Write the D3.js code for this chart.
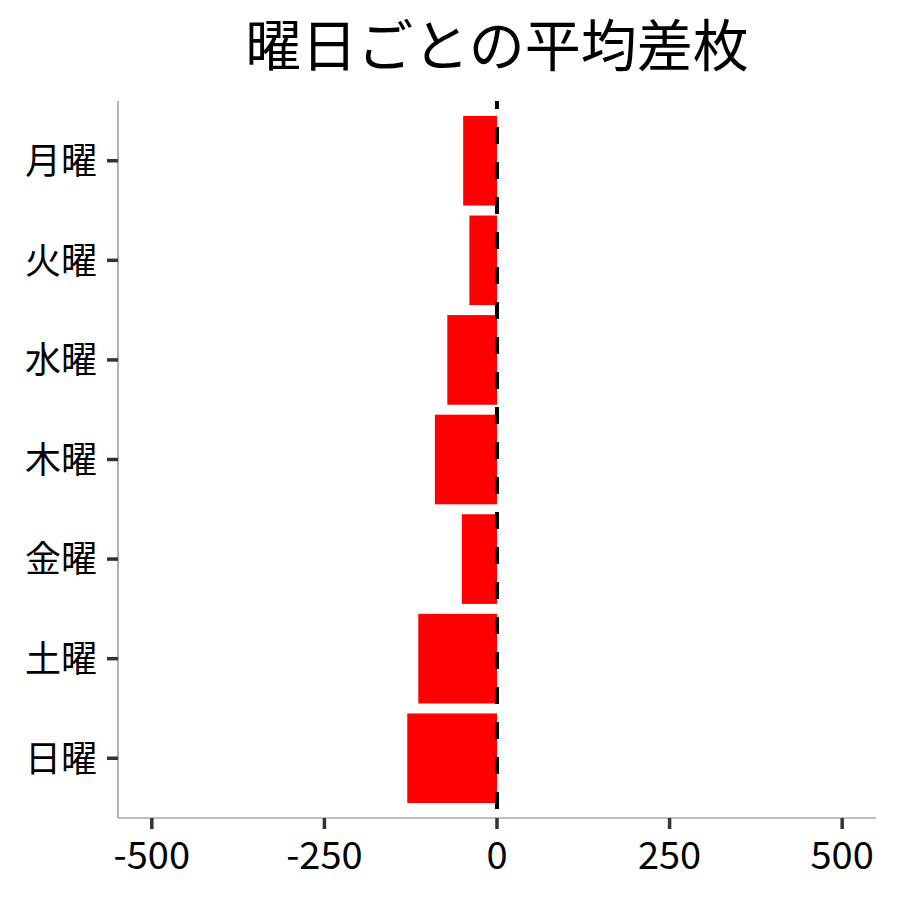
<!DOCTYPE html>
<html>
<head>
<meta charset="utf-8">
<script src="https://cdn.jsdelivr.net/npm/d3@7"></script>
<style>
  body { margin: 0; background: #fff; }
  text { font-family: "Noto Sans CJK JP", "Noto Sans", sans-serif; }
</style>
</head>
<body>
<main></main>
<script>
// data
const days = ["月曜", "火曜", "水曜", "木曜", "金曜", "土曜", "日曜"];
const avgDiff = [-49, -40, -72, -90, -51, -114, -130];
const xTicks = [-500, -250, 0, 250, 500];
const titleText = "曜日ごとの平均差枚";

const width = 900, height = 900;
const panelLeft = 118, panelRight = 876, panelTop = 101, panelBottom = 818;

const svg = d3.select("main")
  .append("svg")
  .attr("width", width)
  .attr("height", height);

const x = d3.scaleLinear().domain([-549, 549]).range([panelLeft, panelRight]);

// discrete axis: ggplot-style 0.6 expansion each side
const yPos = d3.scaleLinear().domain([0.4, 7.6]).range([panelTop, panelBottom]);
const step = yPos(2) - yPos(1);

svg.append("text")
  .attr("x", 497)
  .attr("y", 66)
  .attr("text-anchor", "middle")
  .style("font-size", "56px")
  .style("fill", "#000")
  .text(titleText);

// bars
svg.selectAll("rect.bar")
  .data(days)
  .enter()
  .append("rect")
  .attr("class", "bar")
  .attr("x", (d, i) => x(Math.min(0, avgDiff[i])))
  .attr("width", (d, i) => Math.abs(x(avgDiff[i]) - x(0)))
  .attr("y", (d, i) => yPos(i + 1) - step * 0.45)
  .attr("height", step * 0.9)
  .style("fill", "red");

// zero line
svg.append("line")
  .attr("x1", x(0)).attr("x2", x(0))
  .attr("y1", panelTop).attr("y2", panelBottom)
  .style("stroke", "#000")
  .style("stroke-width", 4)
  .style("stroke-dasharray", "17,18")
  .style("stroke-dashoffset", 9);

// axis lines
svg.append("line")
  .attr("x1", panelLeft).attr("x2", panelLeft)
  .attr("y1", panelTop).attr("y2", panelBottom)
  .style("stroke", "#808080").style("stroke-width", 1.2);
svg.append("line")
  .attr("x1", panelLeft).attr("x2", panelRight)
  .attr("y1", panelBottom).attr("y2", panelBottom)
  .style("stroke", "#808080").style("stroke-width", 1.2);

// y ticks + labels
const yg = svg.append("g");
yg.selectAll("line")
  .data(days)
  .enter()
  .append("line")
  .attr("x1", panelLeft - 11).attr("x2", panelLeft)
  .attr("y1", (d, i) => yPos(i + 1)).attr("y2", (d, i) => yPos(i + 1))
  .style("stroke", "#333").style("stroke-width", 3.5);
yg.selectAll("text")
  .data(days)
  .enter()
  .append("text")
  .attr("x", panelLeft - 21)
  .attr("y", (d, i) => yPos(i + 1))
  .attr("dy", "0.37em")
  .attr("text-anchor", "end")
  .style("font-size", "36px")
  .style("fill", "#000")
  .text(d => d);

// x ticks + labels
const xg = svg.append("g");
xg.selectAll("line")
  .data(xTicks)
  .enter()
  .append("line")
  .attr("x1", d => x(d)).attr("x2", d => x(d))
  .attr("y1", panelBottom).attr("y2", panelBottom + 11)
  .style("stroke", "#333").style("stroke-width", 3.5);
xg.selectAll("text")
  .data(xTicks)
  .enter()
  .append("text")
  .attr("x", d => x(d))
  .attr("y", panelBottom + 51)
  .attr("text-anchor", "middle")
  .style("font-size", "38px")
  .style("fill", "#000")
  .text(d => d);
</script>
</body>
</html>
